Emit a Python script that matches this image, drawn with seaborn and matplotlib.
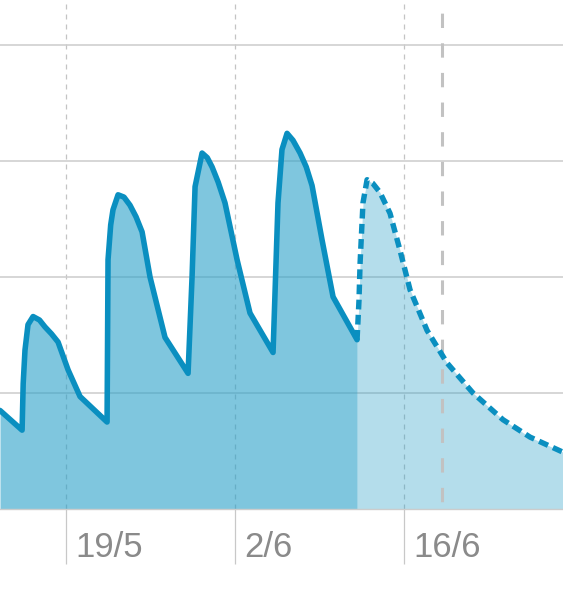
import matplotlib
matplotlib.use("Agg")
import matplotlib.pyplot as plt
import seaborn as sns
from matplotlib.transforms import ScaledTranslation

# ---- data (day of May-based numbering: 19 = 19/5, 33 = 2/6, 47 = 16/6) ----
actual_day = [13.53, 15.36, 15.45, 15.60, 15.85, 16.27, 16.80, 17.26, 17.80, 18.34, 19.17, 20.16, 22.40,
              22.48, 22.70, 22.89, 23.31, 23.80, 24.30, 24.80, 25.30, 25.96, 27.20, 29.11,
              29.44, 29.69, 30.27, 30.70, 31.10, 31.60, 32.17, 33.17, 34.24, 36.15,
              36.56, 36.89, 37.31, 37.80, 38.39, 38.90, 39.38, 40.21, 41.12, 43.11]
actual_value = [0.85, 0.68, 1.08, 1.37, 1.59, 1.66, 1.63, 1.57, 1.51, 1.44, 1.20, 0.97, 0.75,
                2.15, 2.45, 2.58, 2.71, 2.69, 2.62, 2.52, 2.39, 2.00, 1.48, 1.17,
                2.00, 2.78, 3.07, 3.03, 2.95, 2.82, 2.64, 2.15, 1.69, 1.35,
                2.64, 3.10, 3.24, 3.18, 3.07, 2.95, 2.79, 2.32, 1.83, 1.46]
forecast_day = [43.11, 43.27, 43.36, 43.60, 43.94, 44.40, 45.01, 45.84, 46.67, 47.50,
                48.91, 50.56, 52.72, 55.20, 57.44, 60.17]
forecast_value = [1.46, 1.80, 2.12, 2.64, 2.84, 2.81, 2.73, 2.55, 2.23, 1.89,
                  1.54, 1.26, 1.00, 0.77, 0.62, 0.49]
tick_days = [19, 33, 47]
tick_labels = ["19/5", "2/6", "16/6"]
today_day = 50.15
grid_values = [1, 2, 3, 4]
x_range = (13.53, 60.17)
y_range = (0, 4.39)

sns.set_style("white")
plt.rcParams["font.family"] = ["Liberation Sans", "DejaVu Sans"]

fig = plt.figure(figsize=(5.63, 6.0), dpi=100)
ax = fig.add_axes([0, 91 / 600, 1, 509 / 600])

line_color = "#0a8fc0"
fill_color = "#2aa0c8"

ax.fill_between(actual_day, actual_value, 0, color=fill_color, alpha=0.6, lw=0, zorder=1)
ax.fill_between(forecast_day, forecast_value, 0, color=fill_color, alpha=0.35, lw=0, zorder=1)

ax.axvline(today_day, ymin=1, ymax=0, color="#c2c2c2", lw=2.2, ls=(5.4, (4.7, 5.0)), zorder=1.5)

sns.lineplot(x=actual_day, y=actual_value, color=line_color, lw=4, ax=ax,
             estimator=None, sort=False, zorder=3)
sns.lineplot(x=forecast_day, y=forecast_value, color=line_color, lw=3.9, ax=ax,
             estimator=None, sort=False, zorder=3, linestyle=(0, (1.8, 1.0)))

ax.set_xlim(*x_range)
ax.set_ylim(*y_range)

ax.set_yticks(grid_values)
ax.tick_params(axis="y", length=0, left=False, labelleft=False)
ax.yaxis.grid(True, color="#cccccc", lw=1.1)

ax.set_xticks(tick_days)
ax.set_xticklabels(tick_labels)
ax.xaxis.grid(True, color="#c4c4c4", lw=0.9, ls=(0, (4, 4)))
ax.set_axisbelow(True)
ax.tick_params(axis="x", bottom=True, length=39.6, width=0.9, color="#c8c8c8", direction="out",
               pad=-23.8, labelsize=25, labelcolor="#8a8a8a")
for lab in ax.get_xticklabels():
    lab.set_horizontalalignment("left")
    lab.set_transform(lab.get_transform() + ScaledTranslation(9 / 100, 0, fig.dpi_scale_trans))

for s in ["top", "left", "right"]:
    ax.spines[s].set_visible(False)
ax.spines["bottom"].set_color("#cccccc")
ax.spines["bottom"].set_linewidth(1)
ax.set_xlabel("")
ax.set_ylabel("")

fig.savefig("out.png", dpi=100)
